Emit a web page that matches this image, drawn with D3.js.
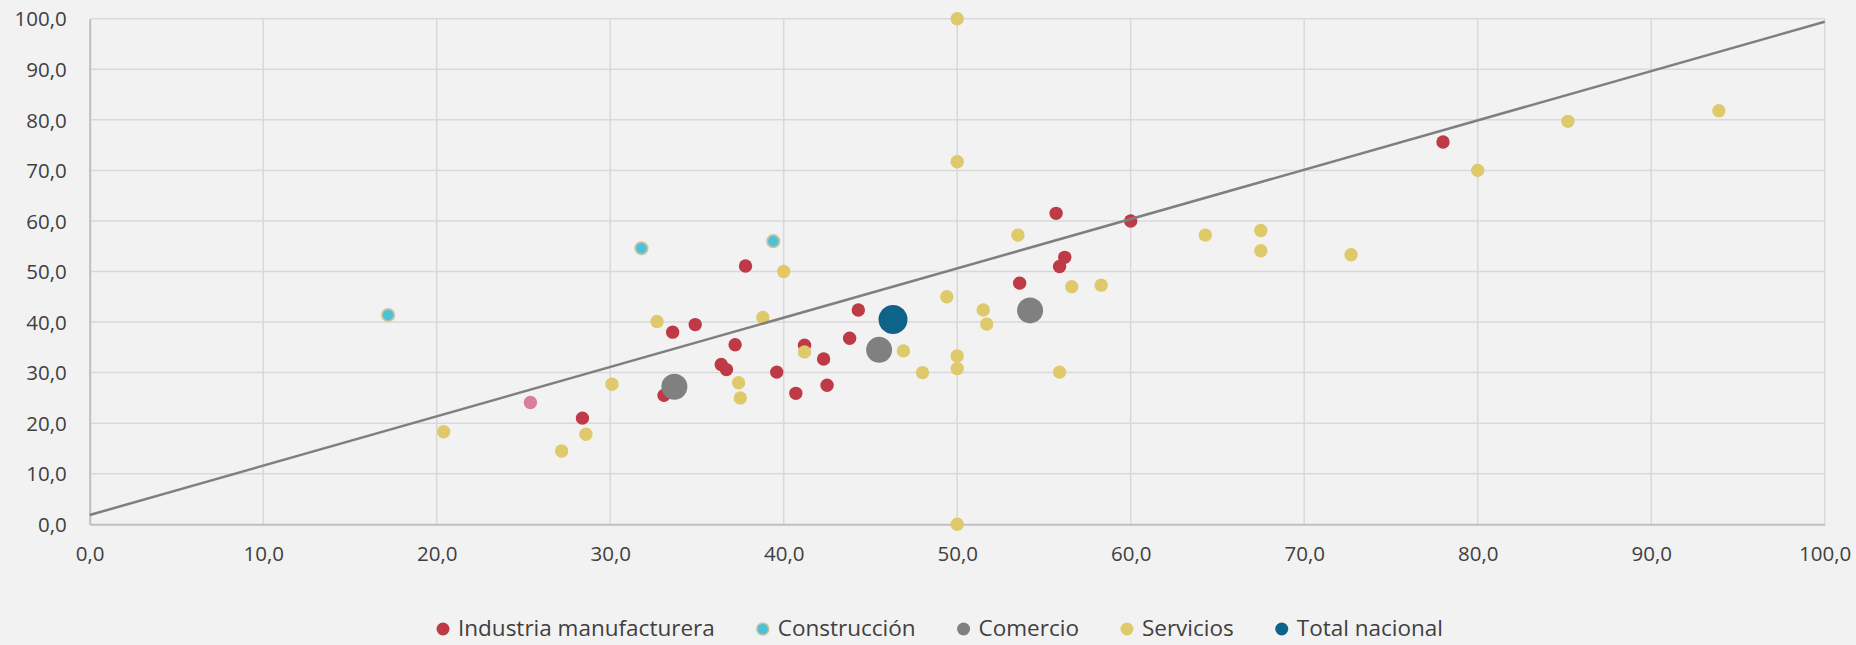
<!DOCTYPE html>
<html>
<head>
<meta charset="utf-8">
<script src="https://cdn.jsdelivr.net/npm/d3@7"></script>
<style>
html,body{margin:0;padding:0;background:#f2f2f2;}
svg{display:block;}
text{font-family:"Open Sans",sans-serif;fill:#404040;}
</style>
</head>
<body>
<svg id="chart" width="1856" height="645"></svg>
<script>
// ---- data (x, y) ----
const industria = [[37.8,51.1],[33.6,38.0],[34.9,39.5],[37.2,35.5],[36.4,31.6],[36.7,30.6],[39.6,30.1],[33.1,25.5],[28.4,21.0],[41.2,35.4],[42.3,32.7],[40.7,25.9],[42.5,27.5],[43.8,36.8],[44.3,42.4],[53.6,47.7],[55.9,51.0],[56.2,52.8],[55.7,61.5],[60.0,60.0],[78.0,75.6]];
const construccion = [[17.2,41.4],[31.8,54.6],[39.4,56.0]];
const comercio = [[33.7,27.2],[45.5,34.5],[54.2,42.3]];
const servicios = [[50.0,100.0],[50.0,71.7],[40.0,50.0],[53.5,57.2],[64.3,57.2],[67.5,58.1],[67.5,54.1],[72.7,53.3],[56.6,47.0],[58.3,47.3],[49.4,45.0],[51.5,42.4],[51.7,39.6],[46.9,34.3],[41.2,34.1],[50.0,33.3],[50.0,30.8],[48.0,30.0],[55.9,30.1],[32.7,40.1],[38.8,40.9],[37.4,28.0],[37.5,25.0],[30.1,27.7],[20.4,18.3],[27.2,14.5],[28.6,17.8],[50.0,0.0],[80.0,70.0],[85.2,79.7],[93.9,81.8]];
const totalNacional = [[46.3,40.5]];
const otro = [[25.4,24.1]];           // punto sin leyenda
const trendX = [0, 100];
const trendY = [1.84, 99.4];
const xTicks = [0,10,20,30,40,50,60,70,80,90,100];
const yTicks = [0,10,20,30,40,50,60,70,80,90,100];
const legendLabels = ["Industria manufacturera","Construcción","Comercio","Servicios","Total nacional"];

// ---- layout ----
const svg = d3.select("#chart");
const L = 89.7, R = 1824.7, T = 18.7, B = 524.3;
const x = d3.scaleLinear().domain([0,100]).range([L,R]);
const y = d3.scaleLinear().domain([0,100]).range([B,T]);
const loc = d3.formatLocale({decimal:",",thousands:".",grouping:[3],currency:["","€"]});
const fmt = loc.format(".1f");

// gridlines
const g = svg.append("g");
g.selectAll("line.h").data(yTicks.filter(d=>d>0)).join("line")
  .attr("x1",L).attr("x2",R).attr("y1",d=>y(d)).attr("y2",d=>y(d))
  .attr("stroke","#d9d9d9").attr("stroke-width",1.5);
g.selectAll("line.v").data(xTicks.filter(d=>d>0)).join("line")
  .attr("y1",T).attr("y2",B).attr("x1",d=>x(d)).attr("x2",d=>x(d))
  .attr("stroke","#d9d9d9").attr("stroke-width",1.5);

// axes
const xAxis = d3.axisBottom(x).tickValues(xTicks).tickFormat(fmt).tickSize(0).tickPadding(22);
const yAxis = d3.axisLeft(y).tickValues(yTicks).tickFormat(fmt).tickSize(0).tickPadding(23);
const gx = svg.append("g").attr("transform",`translate(0,${B})`).call(xAxis);
const gy = svg.append("g").attr("transform",`translate(${L},0)`).call(yAxis);
[gx,gy].forEach(a=>{
  a.select(".domain").attr("stroke","#bfbfbf").attr("stroke-width",2);
  a.selectAll("text").attr("font-size",20.5).attr("fill","#404040").style("font-family","'Open Sans',sans-serif");
});
gy.selectAll("text").attr("dy","0.35em");

// points
function dots(data, fill, r, stroke){
  svg.append("g").selectAll("circle").data(data).join("circle")
    .attr("cx",d=>x(d[0])).attr("cy",d=>y(d[1])).attr("r",r)
    .attr("fill",fill)
    .attr("stroke",stroke||"none").attr("stroke-width",stroke?1.8:0);
}
const colors = {ind:"#be3a46", con:"#4fc1d6", com:"#808080", ser:"#dec96b", tot:"#0e6389", otro:"#d6809a"};
dots(otro, colors.otro, 6.7);
dots(industria, colors.ind, 6.7);
dots(construccion, colors.con, 6.2, "#c9c3a5");
dots(servicios, colors.ser, 6.7);
dots(comercio, colors.com, 13);
dots(totalNacional, colors.tot, 14.5);

// trend line
svg.append("line")
  .attr("x1",x(trendX[0])).attr("y1",y(trendY[0]))
  .attr("x2",x(trendX[1])).attr("y2",y(trendY[1]))
  .attr("stroke","#7f7f7f").attr("stroke-width",2.5);

// legend
const legColors = [colors.ind, colors.con, colors.com, colors.ser, colors.tot];
const leg = svg.append("g");
const legY = 628;
let cx = 443;
legendLabels.forEach((lab,i)=>{
  const c = leg.append("circle").attr("cx",cx).attr("cy",legY+1).attr("r",6.5).attr("fill",legColors[i]);
  if(i===1) c.attr("stroke","#c9c3a5").attr("stroke-width",1.5).attr("r",6);
  const t = leg.append("text").attr("x",cx+15).attr("y",legY).attr("dy","0.35em")
    .attr("font-size",22.5).attr("fill","#404040").text(lab);
  const w = t.node().getComputedTextLength();
  cx = cx + 15 + w + 48;
});
</script>
</body>
</html>
